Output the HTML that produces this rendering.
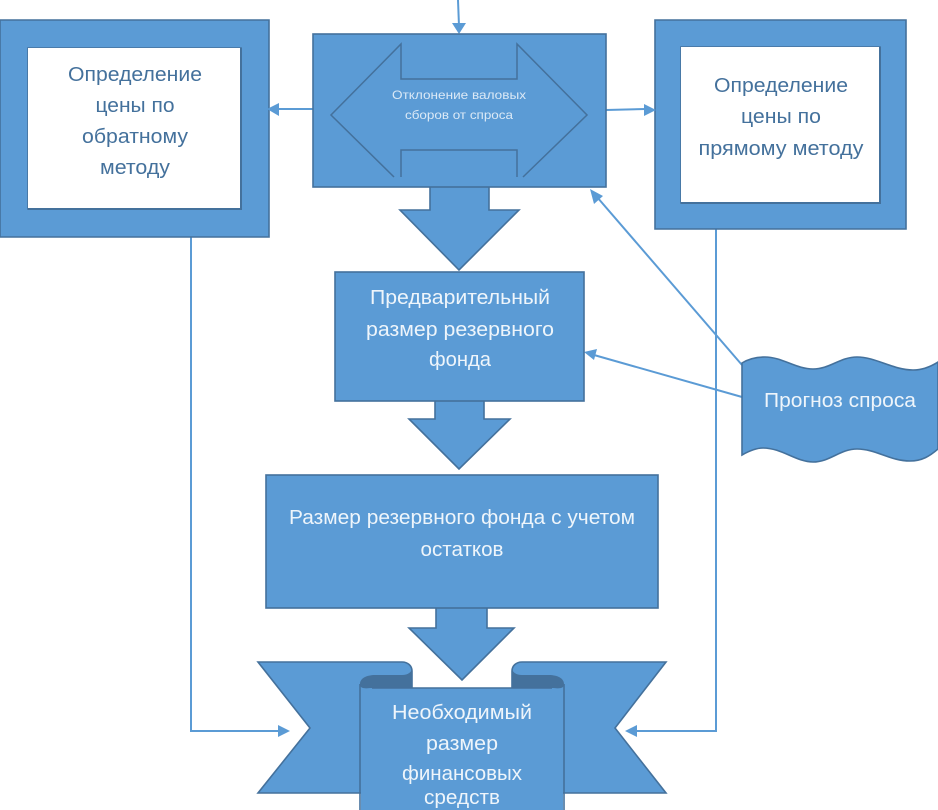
<!DOCTYPE html>
<html>
<head>
<meta charset="utf-8">
<style>
html,body{margin:0;padding:0;background:#fff;width:938px;height:810px;overflow:hidden}
svg{display:block}
text{font-family:"Liberation Sans",sans-serif;text-anchor:middle}
.w{fill:#eef5fb;font-size:20px}
.b{fill:#44719c;font-size:20px}
.s{fill:#5b9bd5;stroke:#44719c;stroke-width:1.6}
.l{fill:none;stroke:#5b9bd5;stroke-width:2}
.a{fill:#5b9bd5}
</style>
</head>
<body>
<svg width="938" height="810" viewBox="0 0 938 810" xmlns="http://www.w3.org/2000/svg">
<!-- connectors -->
<path class="l" d="M191 237V731H280"/>
<path class="l" d="M716 229V731H634"/>
<path class="l" d="M458 0L459 26"/>
<path class="a" d="M452 23H466L459 34Z"/>
<path class="l" d="M742 365L597 197"/>
<path class="a" d="M590 189L603 196L594 204Z"/>
<path class="l" d="M742 397L594 355"/>
<path class="a" d="M584 352L597 349L594 360Z"/>
<path class="a" d="M290 731L278 725V737Z"/>
<path class="a" d="M625 731L637 725V737Z"/>

<!-- left frame -->
<path class="s" fill-rule="evenodd" d="M0 20H269V237H0ZM28 48V209H241V48Z"/>
<rect x="28" y="48" width="213" height="161" fill="#fff"/>
<path d="M241 48V209H28" fill="none" stroke="#44719c" stroke-width="2"/>
<text class="b" x="135" y="81" textLength="134" lengthAdjust="spacingAndGlyphs">Определение</text>
<text class="b" x="135" y="112" textLength="79" lengthAdjust="spacingAndGlyphs">цены по</text>
<text class="b" x="135" y="143" textLength="106" lengthAdjust="spacingAndGlyphs">обратному</text>
<text class="b" x="135" y="174" textLength="70" lengthAdjust="spacingAndGlyphs">методу</text>
<path class="l" d="M313 109H275"/>
<path class="a" d="M267 109L279 103V116Z"/>

<!-- right frame -->
<path class="s" fill-rule="evenodd" d="M655 20H906V229H655ZM681 47V203H880V47Z"/>
<rect x="681" y="47" width="199" height="156" fill="#fff"/>
<path d="M880 47V203H681" fill="none" stroke="#44719c" stroke-width="2"/>
<text class="b" x="781" y="92" textLength="134" lengthAdjust="spacingAndGlyphs">Определение</text>
<text class="b" x="781" y="123" textLength="80" lengthAdjust="spacingAndGlyphs">цены по</text>
<text class="b" x="781" y="155" textLength="165" lengthAdjust="spacingAndGlyphs">прямому методу</text>
<path class="l" d="M606 110L646 109"/>
<path class="a" d="M656 110L644 104V116Z"/>

<!-- center block -->
<path class="s" d="M430 186V210H400L459 270L519 210H489V186Z"/>
<rect class="s" x="313" y="34" width="293" height="153"/>
<path fill="none" stroke="#44719c" stroke-width="1.5" d="M394 177L331 115L401 44V79H517V44L587 115L523 177M401 177V150H517V177"/>
<text x="459" y="99" fill="#dbe9f6" font-size="12" textLength="134" lengthAdjust="spacingAndGlyphs">Отклонение валовых</text>
<text x="459" y="119" fill="#dbe9f6" font-size="12" textLength="108" lengthAdjust="spacingAndGlyphs">сборов от спроса</text>

<!-- box 2 -->
<path class="s" d="M435 400V419H409L459 469L510 419H484V400Z"/>
<rect class="s" x="335" y="272" width="249" height="129"/>
<text class="w" x="460" y="304" textLength="180" lengthAdjust="spacingAndGlyphs">Предварительный</text>
<text class="w" x="460" y="336" textLength="188" lengthAdjust="spacingAndGlyphs">размер резервного</text>
<text class="w" x="460" y="366" textLength="62" lengthAdjust="spacingAndGlyphs">фонда</text>

<!-- box 3 -->
<path class="s" d="M436 607V628H409L462 680L514 628H487V607Z"/>
<rect class="s" x="266" y="475" width="392" height="133"/>
<text class="w" x="462" y="524" textLength="346" lengthAdjust="spacingAndGlyphs">Размер резервного фонда с учетом</text>
<text class="w" x="462" y="556" textLength="83" lengthAdjust="spacingAndGlyphs">остатков</text>

<!-- wave -->
<path class="s" d="M742 363C750 358 758 357 765 357C782 357 796 369 813 369C830 369 840 357 857 357C876 357 893 370 913 370C922 370 930 367 938 362V449C930 456 922 461 910 461C890 461 876 449 857 449C840 449 830 462 813 462C796 462 782 448 763 448C756 448 749 451 742 455Z"/>
<text class="w" x="840" y="407" textLength="152" lengthAdjust="spacingAndGlyphs">Прогноз спроса</text>

<!-- ribbon -->
<path class="s" d="M258 662H402C408 662 412 666 412 671V793H258L310 728Z"/>
<path class="s" d="M666 662H522C516 662 512 666 512 671V793H666L615 728Z"/>
<path fill="#44719c" d="M360 684C360 678 367 675 375 675H402C408 675 412 672 412 668V688H375C367 688 360 690 360 684Z"/>
<path fill="#44719c" d="M564 684C564 678 557 675 549 675H522C516 675 512 672 512 668V688H549C557 688 564 690 564 684Z"/>
<path fill="#5b9bd5" d="M361 689C364 689 370 688 375 688H549C554 688 560 689 563 689V810H361Z"/>
<path fill="none" stroke="#44719c" stroke-width="1.6" d="M360 811V684M564 811V684M372 688H552"/>
<text class="w" x="462" y="719" textLength="140" lengthAdjust="spacingAndGlyphs">Необходимый</text>
<text class="w" x="462" y="750" textLength="72" lengthAdjust="spacingAndGlyphs">размер</text>
<text class="w" x="462" y="780" textLength="120" lengthAdjust="spacingAndGlyphs">финансовых</text>
<text class="w" x="462" y="804" textLength="76" lengthAdjust="spacingAndGlyphs">средств</text>
</svg>
</body>
</html>
